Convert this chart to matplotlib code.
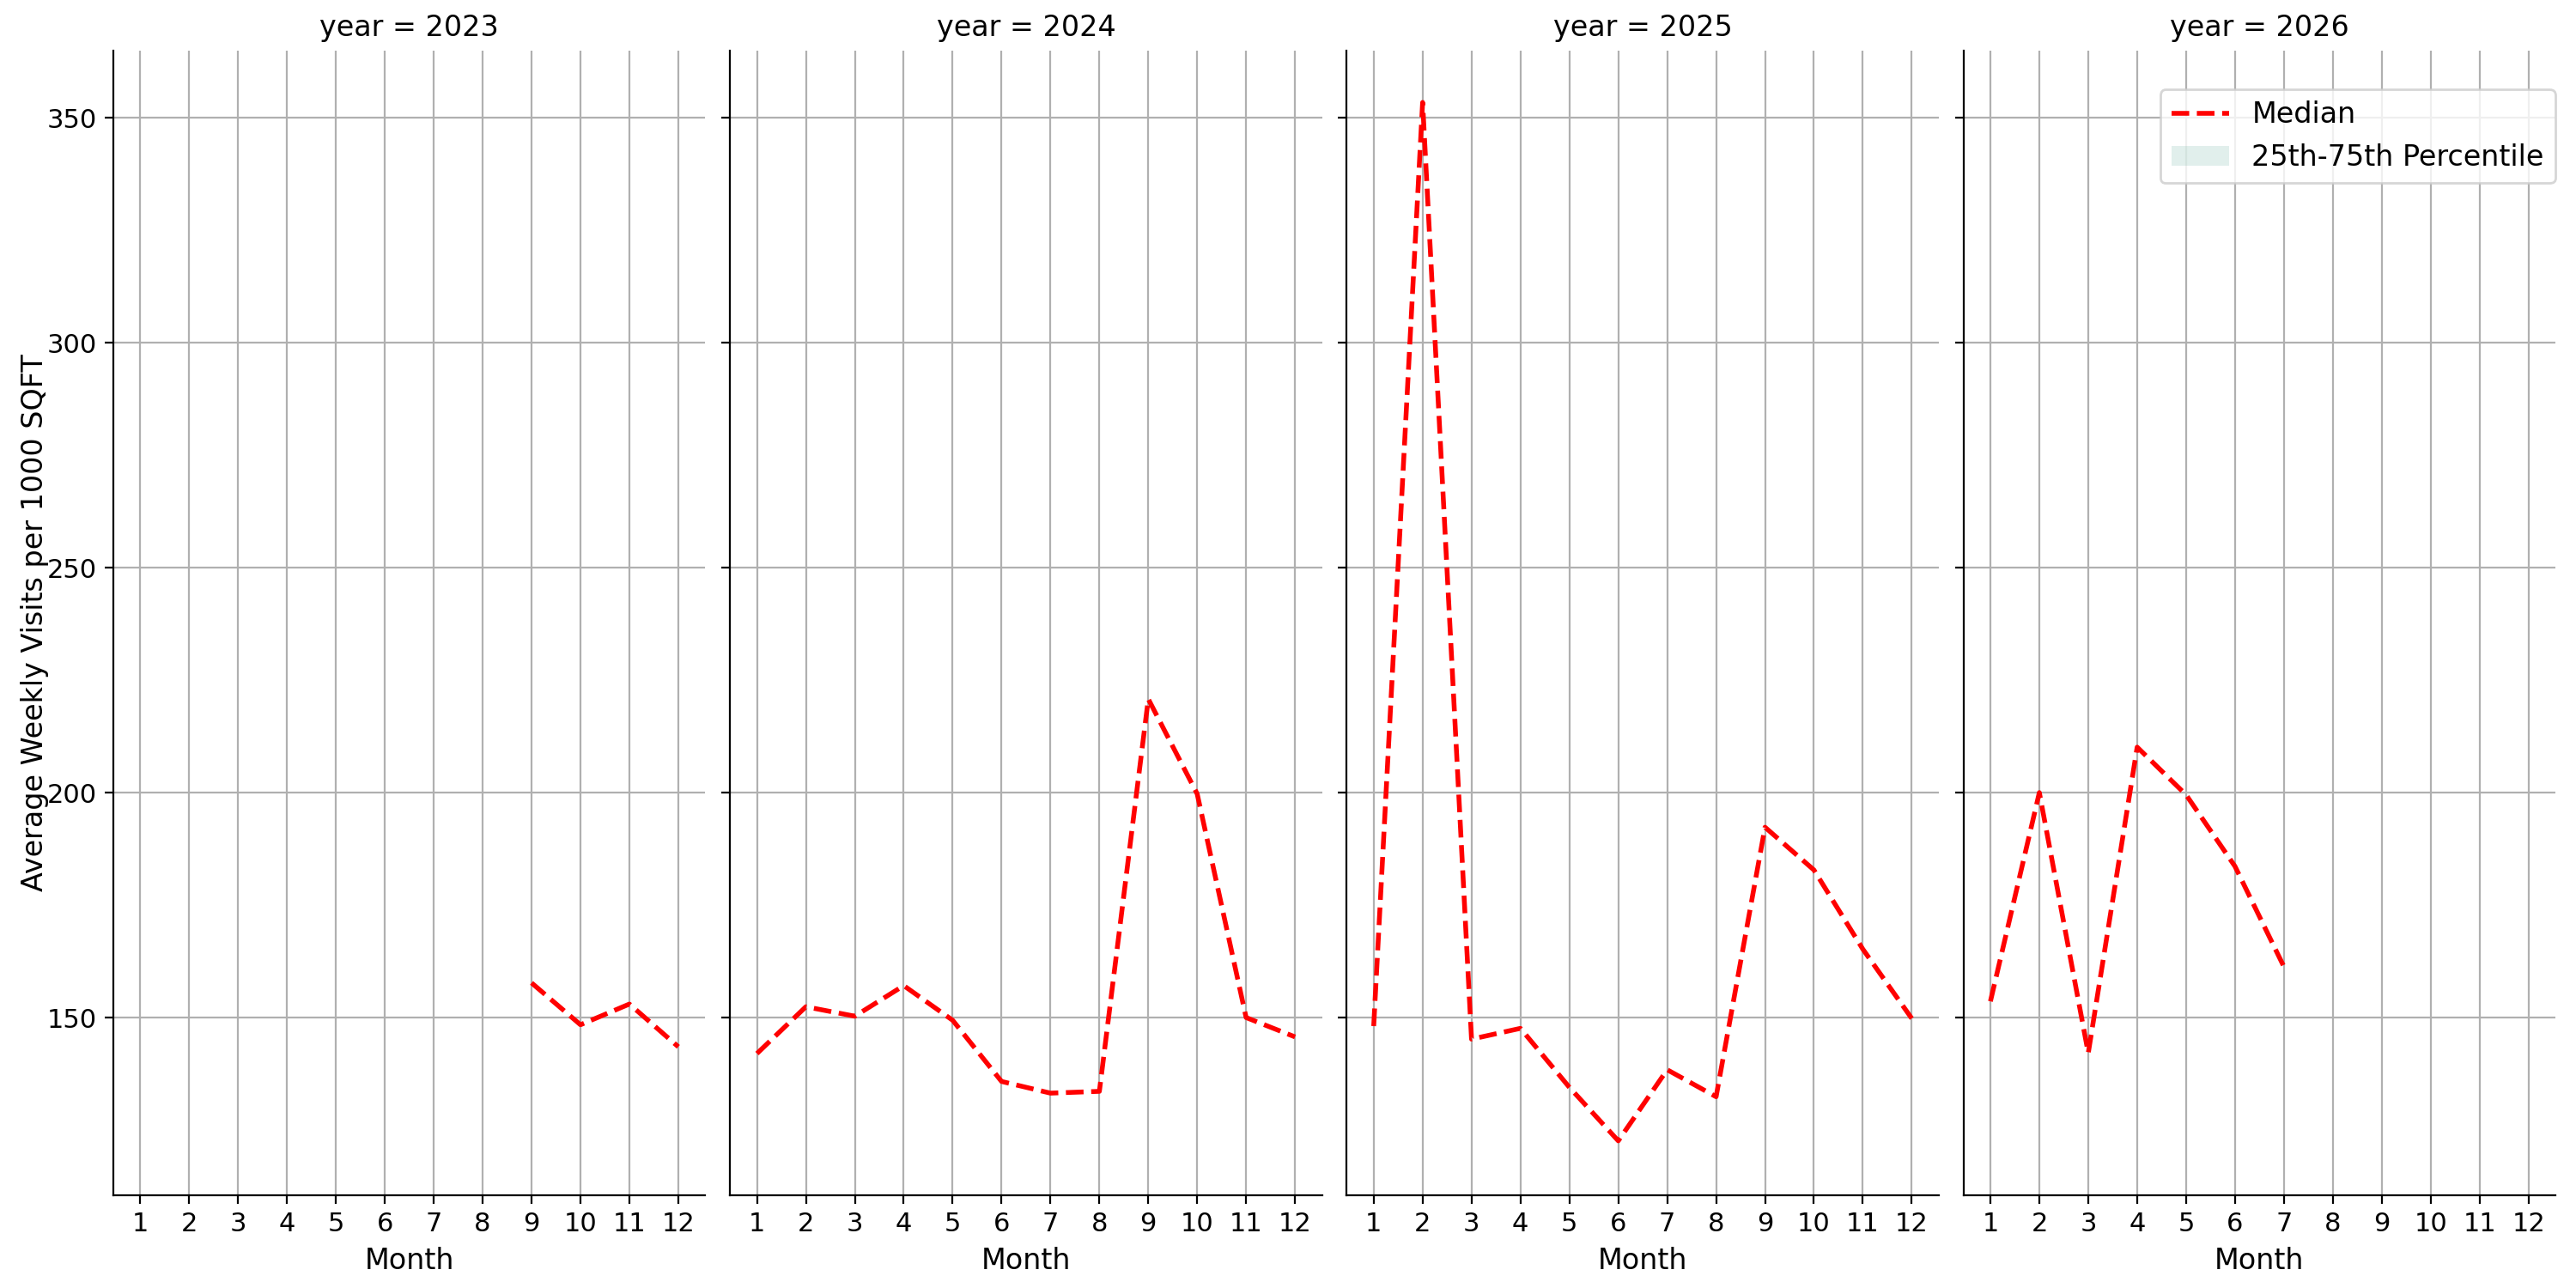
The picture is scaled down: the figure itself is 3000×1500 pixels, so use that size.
import matplotlib
matplotlib.use("Agg")
import matplotlib.pyplot as plt
from matplotlib.patches import Patch
import numpy as np

# median weekly visits per 1000 sqft, by month, one list per year
years = [2023, 2024, 2025, 2026]
months_2023 = [9, 10, 11, 12]
median_2023 = [157.7, 148.4, 153.0, 143.5]
months_2024 = [1, 2, 3, 4, 5, 6, 7, 8, 9, 10, 11, 12]
median_2024 = [142.0, 152.4, 150.3, 157.1, 149.4, 135.8, 133.2, 133.6, 220.8, 199.7, 150.0, 145.7]
months_2025 = [1, 2, 3, 4, 5, 6, 7, 8, 9, 10, 11, 12]
median_2025 = [148.1, 353.4, 145.2, 147.6, 134.5, 122.6, 138.4, 132.4, 192.3, 182.8, 165.2, 149.8]
months_2026 = [1, 2, 3, 4, 5, 6, 7]
median_2026 = [153.6, 200.0, 142.1, 210.1, 199.5, 183.6, 161.3]

series = {
    2023: (months_2023, median_2023),
    2024: (months_2024, median_2024),
    2025: (months_2025, median_2025),
    2026: (months_2026, median_2026),
}
month_ticks = list(range(1, 13))

fig, axes = plt.subplots(1, 4, figsize=(15, 7.5), sharey=True, sharex=True)
fig.subplots_adjust(left=0.044, right=0.992, top=0.961, bottom=0.072, wspace=0.042)

for ax, yr in zip(axes, years):
    m, med = series[yr]
    ax.plot(m, med, color='red', linestyle='--', linewidth=2, label='Median')
    ax.set_title(f'year = {yr}', fontsize=12)
    ax.set_xlabel('Month', fontsize=12)
    ax.set_xticks(month_ticks)
    ax.tick_params(labelsize=11)
    ax.grid(True)
    ax.spines['top'].set_visible(False)
    ax.spines['right'].set_visible(False)

axes[0].set_xlim(0.45, 12.55)
axes[0].set_ylim(110.5, 365)
axes[0].set_ylabel('Average Weekly Visits per 1000 SQFT', fontsize=12, labelpad=-1)

handles = [
    plt.Line2D([], [], color='red', linestyle='--', linewidth=2, label='Median'),
    Patch(facecolor='#69b3a2', alpha=0.2, label='25th-75th Percentile'),
]
axes[-1].legend(handles=handles, loc='upper right', bbox_to_anchor=(1.0, 0.966),
                borderaxespad=0, fontsize=12)

fig.savefig('out.png', dpi=200)
